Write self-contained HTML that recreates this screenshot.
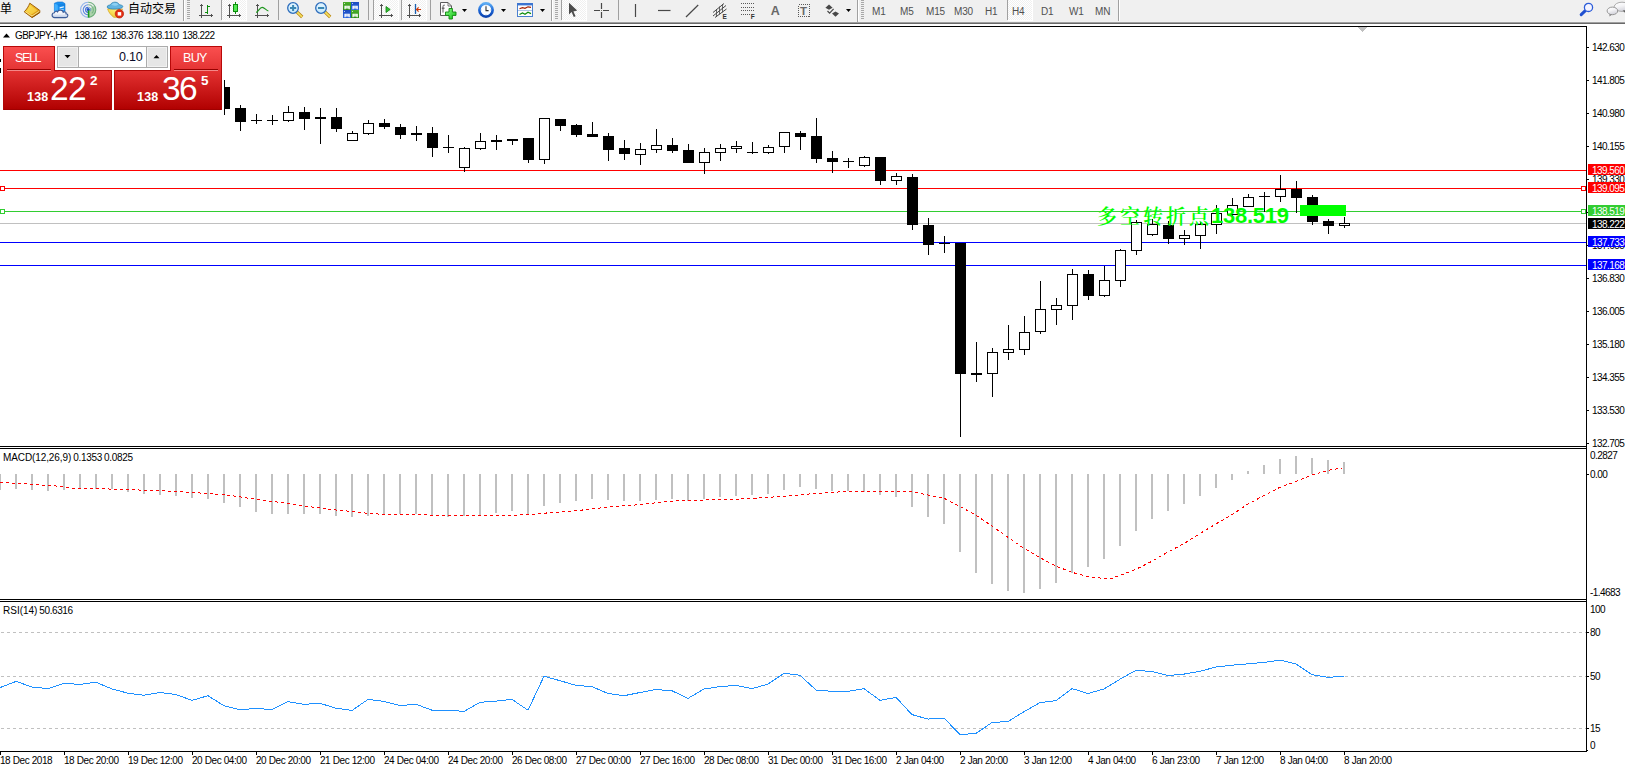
<!DOCTYPE html>
<html lang="zh"><head><meta charset="utf-8"><title>GBPJPY-,H4</title>
<style>
html,body{margin:0;padding:0;background:#fff;}
body{width:1625px;height:766px;overflow:hidden;position:relative;font-family:"Liberation Sans","Noto Sans CJK SC",sans-serif;color:#000;}
#chart{position:absolute;left:0;top:0;}
#tb{position:absolute;left:0;top:0;width:1625px;height:24px;background:#f0f0f0;overflow:hidden;}
#tb .ln1{position:absolute;left:0;top:21px;width:1625px;height:1px;background:#f2f2f2;}
#tb .ln2{position:absolute;left:0;top:22px;width:1625px;height:1px;background:#a0a0a0;}
#tb .ln3{position:absolute;left:0;top:23px;width:1625px;height:1px;background:#696969;}
#tb svg{position:absolute;left:0;top:0;}
#tb .tx{position:absolute;top:6px;font-size:10px;line-height:12px;color:#505050;letter-spacing:-0.2px;white-space:pre;}
#tb .cn{position:absolute;font-size:12px;line-height:14px;color:#000;white-space:pre;font-family:"Liberation Sans","Noto Sans CJK SC",sans-serif;}
#tb .sel{position:absolute;top:0;height:21px;background-color:#f0f0f0;background-image:linear-gradient(45deg,#fff 25%,transparent 25%,transparent 75%,#fff 75%),linear-gradient(45deg,#fff 25%,transparent 25%,transparent 75%,#fff 75%);background-size:2px 2px;background-position:0 0,1px 1px;box-shadow:inset -1px -1px 0 #fff;}
.t{position:absolute;font-size:10px;line-height:12px;letter-spacing:-0.55px;word-spacing:1.6px;white-space:pre;color:#000;}
.t.ax{width:40px;overflow:hidden;}
.t.w{color:#fff;}
.bx{position:absolute;left:1588px;width:37px;height:11px;}
#gcj{position:absolute;left:1097px;top:203px;white-space:pre;color:#0f0;line-height:28px;height:28px;font-family:"Liberation Serif","Noto Serif CJK SC",serif;font-size:20px;letter-spacing:3px;font-weight:600;}
#gnm{position:absolute;left:1211px;top:202px;white-space:pre;color:#0f0;line-height:28px;height:28px;font-family:"Liberation Sans",sans-serif;font-size:22px;font-weight:bold;letter-spacing:-0.25px;}
#oc{position:absolute;left:0;top:0;}
#oc div{position:absolute;}
#oc .sell{left:3px;top:46px;width:52px;height:24px;background:linear-gradient(#fb5050,#e43434);box-shadow:inset 1px 1px 0 #b80808,inset -1px 0 0 #b80808;}
#oc .buy{left:170px;top:46px;width:52px;height:24px;background:linear-gradient(#fb5050,#e43434);box-shadow:inset -1px 1px 0 #b80808,inset 1px 0 0 #b80808;}
#oc .pl{left:3px;top:70px;width:109px;height:40px;background:linear-gradient(#e43232,#b00000);box-shadow:inset 1px 0 0 #b00808,inset -1px 0 0 #b00808,inset 0 -1px 0 #a00000;}
#oc .pr{left:114px;top:70px;width:108px;height:40px;background:linear-gradient(#e43232,#b00000);box-shadow:inset -1px 0 0 #b00808,inset 1px 0 0 #b00808,inset 0 -1px 0 #a00000;}
#oc .hd{height:1px;background:#960000;top:69px;}
#oc .hl{height:1px;background:#f48888;top:70px;}
#oc .lb{color:#fff;font-size:12.5px;line-height:14px;letter-spacing:-1.35px;white-space:pre;}
#oc .sm{color:#fff;font-size:12.5px;line-height:14px;letter-spacing:0.2px;white-space:pre;font-weight:bold;}
#oc .big{color:#fff;font-size:33.5px;line-height:34px;letter-spacing:-1.6px;white-space:pre;}
#oc .vol{left:57px;top:46px;width:111px;height:22px;background:#fff;border:1px solid #acacac;box-sizing:border-box;}
#oc .vb{top:47px;width:20px;height:20px;background:#e6e6e6;box-shadow:inset 0 0 0 1px #f2f2f2;}
#oc .vs{top:47px;width:1px;height:20px;background:#acacac;}
#oc .vt{color:#0a0a28;font-size:12.5px;line-height:14px;white-space:pre;letter-spacing:-0.2px;}
#oc .tb{top:70px;height:1px;background:#b00808;}
</style></head>
<body>
<div id="tb">
<div class="sel" style="left:222px;width:25px"></div><div class="sel" style="left:374px;width:25px"></div><div class="sel" style="left:402px;width:25px"></div><div class="sel" style="left:562px;width:25px"></div><div class="sel" style="left:1008px;width:25px"></div>
<div class="ln1"></div><div class="ln2"></div><div class="ln3"></div>
<svg width="1625" height="24" viewBox="0 0 1625 24">
<defs>
<linearGradient id="gold" x1="0" y1="0" x2="1" y2="1"><stop offset="0" stop-color="#ffe24a"/><stop offset="0.6" stop-color="#e8a818"/><stop offset="1" stop-color="#b87408"/></linearGradient>
<linearGradient id="lens" x1="0" y1="0" x2="0" y2="1"><stop offset="0" stop-color="#e4f6ff"/><stop offset="1" stop-color="#c4e8fc"/></linearGradient>
<linearGradient id="grn" x1="0" y1="0" x2="0" y2="1"><stop offset="0" stop-color="#4cae2c"/><stop offset="1" stop-color="#2c8c18"/></linearGradient>
<linearGradient id="blu" x1="0" y1="0" x2="0" y2="1"><stop offset="0" stop-color="#1c4cc0"/><stop offset="1" stop-color="#2c68e0"/></linearGradient>
<g id="axes" fill="#505050" shape-rendering="crispEdges"><rect x="2" y="1" width="1" height="14"/><rect x="0" y="12" width="14" height="1"/><rect x="1" y="2" width="3" height="1"/><rect x="12" y="11" width="1" height="3"/></g>
<g id="grip" fill="#a8a8a8"><rect x="0" y="0" width="3" height="1"/><rect x="0" y="2" width="3" height="1"/><rect x="0" y="4" width="3" height="1"/><rect x="0" y="6" width="3" height="1"/><rect x="0" y="8" width="3" height="1"/><rect x="0" y="10" width="3" height="1"/><rect x="0" y="12" width="3" height="1"/><rect x="0" y="14" width="3" height="1"/><rect x="0" y="16" width="3" height="1"/><rect x="0" y="18" width="3" height="1"/></g>
<polygon id="dd" points="0,0 5,0 2.5,3"/>
<linearGradient id="face" x1="1" y1="0" x2="0" y2="1"><stop offset="0" stop-color="#fff8a8"/><stop offset="0.6" stop-color="#f8dc50"/><stop offset="1" stop-color="#e0a820"/></linearGradient>
<linearGradient id="cld" x1="0" y1="0" x2="0" y2="1"><stop offset="0" stop-color="#ffffff"/><stop offset="0.5" stop-color="#eef2fa"/><stop offset="1" stop-color="#b8c8e4"/></linearGradient>
<linearGradient id="bub" x1="0" y1="0" x2="0.4" y2="1"><stop offset="0" stop-color="#ffffff"/><stop offset="0.5" stop-color="#f4f4f6"/><stop offset="1" stop-color="#d4d4dc"/></linearGradient>
<linearGradient id="clk" x1="0" y1="0" x2="0" y2="1"><stop offset="0" stop-color="#5cacf4"/><stop offset="0.55" stop-color="#1c64d4"/><stop offset="1" stop-color="#0c44b0"/></linearGradient>
<linearGradient id="pls" x1="0" y1="0" x2="1" y2="1"><stop offset="0" stop-color="#8cff8c"/><stop offset="1" stop-color="#10c010"/></linearGradient>
</defs>
<!-- separators -->
<g fill="#a0a0a0"><rect x="183" y="0" width="1" height="21"/><rect x="221" y="0" width="1" height="20"/><rect x="278" y="0" width="1" height="20"/><rect x="368" y="0" width="1" height="20"/><rect x="373" y="0" width="1" height="20"/><rect x="401" y="0" width="1" height="20"/><rect x="430" y="0" width="1" height="20"/><rect x="551" y="0" width="1" height="21"/><rect x="561" y="0" width="1" height="20"/><rect x="618" y="0" width="1" height="20"/><rect x="857" y="0" width="1" height="22"/><rect x="1007" y="0" width="1" height="20"/><rect x="1118" y="0" width="1" height="21"/></g>
<g fill="#fff"><rect x="184" y="0" width="1" height="21"/><rect x="552" y="0" width="1" height="21"/><rect x="858" y="0" width="1" height="21"/><rect x="1119" y="0" width="1" height="21"/></g>
<use href="#grip" x="187" y="0"/><use href="#grip" x="555" y="0"/><use href="#grip" x="861" y="0"/>
<!-- tag icon -->
<path d="M29.8 3.2L39.8 10.4V12.6L32 17.6L24.2 11.8C26.6 9.6 28.6 6.4 29.8 3.2Z" fill="url(#gold)" stroke="#a06008" stroke-width="1"/>
<path d="M25.4 11.6L32 16L39.4 11.2" fill="none" stroke="#fff4b0" stroke-width="1" opacity="0.75"/><path d="M32.2 17.4L39.8 12.4" fill="none" stroke="#8c5404" stroke-width="0.9"/>
<path d="M29.6 5.2C28.8 7.6 27.4 9.6 26 11L31.4 14.6L37.6 10.4Z" fill="#ffe860" opacity="0.55"/>
<!-- server + cloud -->
<path d="M54.4 3.2L57.6 2H62.4L65 3.6V11.4H54.4Z" fill="#1890f0" stroke="#1070d0" stroke-width="0.6"/>
<path d="M54.6 3.4L57.8 5V11.4H54.6Z" fill="#40b0ff"/><path d="M57.8 5H65" stroke="#0c60c0" stroke-width="0.5"/>
<path d="M59.6 7.2L63.8 6.2V7.4L59.6 8.4Z" fill="#f0f8ff"/><rect x="59.6" y="9.2" width="4.2" height="1" fill="#a8d8ff"/>
<path d="M54.6 17.6C51.4 17.6 51.2 13.2 54.4 12.8C54.6 11.2 56.6 10.6 57.6 11.8C58.6 9.4 62.8 9.6 63.2 12.2C64.6 11.2 66.6 12.4 66 13.8C68.6 14 68.4 17.6 65.6 17.6Z" fill="url(#cld)" stroke="#3c5c98" stroke-width="1.15"/>
<!-- signal -->
<path d="M88.2 9.8L88.2 17.4A7.6 7.6 0 0 0 94.6 5.6Z" fill="#58b058" opacity="0.45"/>
<g fill="none" stroke-width="1.1"><path d="M88.2 2.2A7.6 7.6 0 0 0 88.2 17.4" stroke="#7ca4e8" opacity="0.8"/><path d="M88.2 4.8A5 5 0 0 0 88.2 14.8" stroke="#5c88e0"/><path d="M88.2 7.2A2.6 2.6 0 0 0 88.2 12.4" stroke="#3c6cd8"/>
<path d="M88.2 2.2A7.6 7.6 0 0 1 88.2 17.4" stroke="#5ca46c" opacity="0.85"/><path d="M88.2 4.8A5 5 0 0 1 91.8 13.4" stroke="#6cb07c" opacity="0.8"/><path d="M88.2 7.2A2.6 2.6 0 0 1 90.4 11.2" stroke="#6c9cc0" opacity="0.8"/></g>
<circle cx="88.2" cy="9.6" r="1.5" fill="#1c4cc8"/><path d="M88.6 10.4V17.4" stroke="#1c9c1c" stroke-width="1.6"/>
<!-- expert hat -->
<path d="M107.6 8.8C108.4 12 111 15.4 113.8 17.3H118L122.6 9Z" fill="url(#face)" stroke="#d4a018" stroke-width="0.7"/>
<path d="M107.2 7.2C107 4.6 110.2 5.6 110.8 4.4C111.6 1.6 118 1.4 118.8 4.2C119.6 5.4 123 4.6 122.8 6.8C122.4 9.4 108 10 107.2 7.2Z" fill="#62b4e2" stroke="#2c84b4" stroke-width="0.8"/>
<path d="M111.4 4.6C112.4 2.6 117.2 2.4 118.2 4.4C117 6 112.6 6.2 111.4 4.6Z" fill="#8cd0f4"/>
<circle cx="119.4" cy="13.8" r="4.2" fill="#e42c10" stroke="#b41c08" stroke-width="0.7"/><rect x="117.7" y="12.1" width="3.5" height="3.5" fill="#fff"/>
<!-- chart type icons -->
<use href="#axes" x="199" y="3"/><g fill="#0c8c0c" shape-rendering="crispEdges"><rect x="207" y="5" width="1" height="9"/><rect x="208" y="6" width="2" height="1"/><rect x="205" y="12" width="2" height="1"/></g>
<use href="#axes" x="227" y="3"/><g shape-rendering="crispEdges"><rect x="235" y="2" width="1" height="12" fill="#0c8c0c"/><rect x="233" y="4" width="5" height="8" fill="#0c8c0c"/><rect x="234" y="5" width="3" height="6" fill="#50e850"/></g>
<use href="#axes" x="255" y="3"/><path d="M256.2 12.6C258.5 11 260 7.4 262.2 7.4C264.5 7.4 266 10.4 268.4 11" stroke="#1c961c" stroke-width="1.2" fill="none"/>
<!-- zoom in/out -->
<g><path d="M296.6 11.6L302.2 17" stroke="#b88410" stroke-width="3.2"/><path d="M296.6 11.6L302 16.8" stroke="#f4e060" stroke-width="1.7"/><circle cx="293" cy="8" r="5.3" fill="url(#lens)" stroke="#2c6cbc" stroke-width="1.3"/><path d="M290 8H296.2M293.1 4.9V11.1" stroke="#3c88b4" stroke-width="2"/></g>
<g><path d="M324.6 11.6L330.2 17" stroke="#b88410" stroke-width="3.2"/><path d="M324.6 11.6L330 16.8" stroke="#f4e060" stroke-width="1.7"/><circle cx="321" cy="8" r="5.3" fill="url(#lens)" stroke="#2c6cbc" stroke-width="1.3"/><path d="M318 8H324.2" stroke="#3c88b4" stroke-width="2"/></g>
<!-- tile windows -->
<rect x="343" y="2" width="8" height="8" fill="url(#grn)"/><rect x="351" y="2" width="8" height="8" fill="url(#blu)"/><rect x="343" y="10" width="8" height="8" fill="url(#blu)"/><rect x="351" y="10" width="8" height="8" fill="url(#grn)"/>
<g fill="#fff"><path d="M344.4 9.2V5.8H349.8V9.2H348.6V8.4H345.6V9.2Z"/><path d="M352.4 9.2V5.8H357.8V9.2H356.6V8.4H353.6V9.2Z"/><path d="M344.4 17.2V13.8H349.8V17.2H348.6V16.4H345.6V17.2Z"/><path d="M352.4 17.2V13.8H357.8V17.2H356.6V16.4H353.6V17.2Z"/><rect x="344" y="3" width="1" height="1" opacity="0.7"/><rect x="352" y="3" width="1" height="1" opacity="0.7"/><rect x="344" y="11" width="1" height="1" opacity="0.7"/><rect x="352" y="11" width="1" height="1" opacity="0.7"/></g>
<g opacity="0.6"><rect x="345.6" y="6.6" width="3" height="0.8" fill="#58b838"/><rect x="353.6" y="6.6" width="3" height="0.8" fill="#4878e0"/><rect x="345.6" y="14.6" width="3" height="0.8" fill="#4878e0"/><rect x="353.6" y="14.6" width="3" height="0.8" fill="#58b838"/></g>
<!-- autoscroll / shift -->
<use href="#axes" x="379" y="3"/><polygon points="386,6.5 386,12.5 390.2,9.5" fill="#30c030" stroke="#108010" stroke-width="0.8"/>
<use href="#axes" x="407" y="3"/><path d="M415.5 4V14" stroke="#1860b0" stroke-width="1.3"/><path d="M421 9.5H416.5M418.6 7.3L416.5 9.5L418.6 11.7" stroke="#d03808" stroke-width="1.1" fill="none"/>
<!-- indicators -->
<path d="M440.5 2.5H448L451.5 6V15.5H440.5Z" fill="#fcfcfc" stroke="#5c5c5c" stroke-width="1"/><path d="M448 2.5V6H451.5" fill="none" stroke="#5c5c5c" stroke-width="0.8"/><path d="M444.8 5.2C443.4 4.8 443 5.6 443 6.6V12.6M441.8 8.2H444.6" stroke="#484848" stroke-width="0.9" fill="none"/>
<path d="M449 8.5H452.4V12H456V15.4H452.4V19H449V15.4H445.5V12H449Z" fill="url(#pls)" stroke="#0c840c" stroke-width="0.9"/>
<use href="#dd" x="462" y="9"/>
<!-- clock -->
<circle cx="486" cy="10" r="6.6" fill="#fbfdff" stroke="url(#clk)" stroke-width="2.7"/><path d="M486 6.2V10.6H488.6" stroke="#303030" stroke-width="1.1" fill="none"/><g fill="#9cb0c8"><rect x="485.6" y="4.6" width="0.8" height="1"/><rect x="485.6" y="14.4" width="0.8" height="1"/><rect x="480.6" y="9.6" width="1" height="0.8"/><rect x="490.4" y="9.6" width="1" height="0.8"/></g>
<use href="#dd" x="501" y="9"/>
<!-- templates -->
<rect x="517.5" y="3.5" width="15" height="13" fill="#fdfdfd" stroke="#4a80d0" stroke-width="1"/><rect x="517" y="3" width="16" height="2.4" fill="#3c74d0"/><path d="M518 10.5H532" stroke="#9cb8e0" stroke-width="0.8"/>
<path d="M519.5 8.8L522.5 7.6L525 8.4L528 6.8L531 7.4" stroke="#a82000" stroke-width="1.2" fill="none"/><path d="M519.5 14.5L522.5 13L525 14.2L528 12.2L531 13.6" stroke="#0c8c0c" stroke-width="1.2" fill="none"/>
<use href="#dd" x="540" y="9"/>
<!-- cursor / crosshair -->
<path d="M569 2.8V14.4L571.6 12L573.8 17L575.6 16.2L573.4 11.4L577.2 10.6Z" fill="#4c4c4c"/>
<path d="M594 10.5H600M603 10.5H609M601.5 3V9M601.5 12V18" stroke="#484848" stroke-width="1.2"/><rect x="601" y="10" width="1" height="1" fill="#787868"/>
<!-- line tools -->
<path d="M635.5 4V17" stroke="#484848" stroke-width="1.2"/><path d="M658 10.5H670.5" stroke="#484848" stroke-width="1.2"/><path d="M686 17L698.2 5" stroke="#484848" stroke-width="1.2"/>
<g stroke="#484848" stroke-width="1" fill="none"><path d="M713 12.5L724 3.5M713 16L726 5.5M715 17.5L726.5 9"/><path d="M716.5 9V17M719.5 6.5V14.5M722.5 4V12.5" stroke-width="0.8"/></g>
<text x="722.6" y="18.8" font-family="Liberation Sans, sans-serif" font-size="6.5" font-weight="bold" fill="#303030">E</text>
<g stroke="#585858" stroke-width="1" stroke-dasharray="1,1" fill="none" shape-rendering="crispEdges"><path d="M741 3.5H755M741 7.5H755M741 10.5H755M741 14.5H750"/></g>
<text x="750.8" y="18.8" font-family="Liberation Sans, sans-serif" font-size="6.5" font-weight="bold" fill="#303030">F</text>
<text x="770.8" y="14.9" font-family="Liberation Sans, sans-serif" font-size="12.5" font-weight="bold" fill="#686868">A</text>
<rect x="798.5" y="4.5" width="11" height="12" fill="none" stroke="#585858" stroke-width="1" stroke-dasharray="1,1" shape-rendering="crispEdges"/>
<text x="800" y="14.8" font-family="Liberation Sans, sans-serif" font-size="11.5" font-weight="bold" fill="#686868">T</text>
<polygon points="829,4.5 832.6,7.8 829,9.8 825.4,7.8" fill="#484848"/><polygon points="835.5,11.5 839,13.5 835.5,16.8 832,13.5" fill="#484848"/><path d="M827.5 11L829.6 13.2L833.6 8.8" stroke="#484848" stroke-width="1.2" fill="none"/>
<use href="#dd" x="846" y="9"/>
<!-- search + chat -->
<path d="M1585.6 10.4L1581.2 14.6" stroke="#2050d0" stroke-width="3" stroke-linecap="round"/><circle cx="1588.5" cy="7.4" r="4.1" fill="#f4f4ff" stroke="#2c5cd8" stroke-width="1.3"/>
<ellipse cx="1622" cy="6.8" rx="7.8" ry="4.6" fill="url(#bub)" stroke="#a4a4a4" stroke-width="0.9"/><path d="M1622.6 10.6L1626 13.6V10Z" fill="#606060"/>
<path d="M1609.8 13.4L1609.4 16.6L1612.4 14.2Z" fill="#787878"/><ellipse cx="1612.4" cy="10.9" rx="5.3" ry="3.8" fill="url(#bub)" stroke="#8c8c8c" stroke-width="0.9"/>
</svg>
<div class="cn" style="left:0;top:2px">单</div>
<div class="cn" style="left:128px;top:2px">自动交易</div>
<div class="tx" style="left:872px">M1</div>
<div class="tx" style="left:900px">M5</div>
<div class="tx" style="left:926px">M15</div>
<div class="tx" style="left:954px">M30</div>
<div class="tx" style="left:985px">H1</div>
<div class="tx" style="left:1012px">H4</div>
<div class="tx" style="left:1041px">D1</div>
<div class="tx" style="left:1069px">W1</div>
<div class="tx" style="left:1095px">MN</div>
</div>
<svg id="chart" width="1625" height="766" viewBox="0 0 1625 766" shape-rendering="crispEdges">
<rect x="0" y="26" width="1587" height="1" fill="#000"/><rect x="1586" y="26" width="1" height="726" fill="#000"/><rect x="0" y="446" width="1587" height="1" fill="#000"/><rect x="0" y="448" width="1587" height="1" fill="#000"/><rect x="0" y="599" width="1587" height="1" fill="#000"/><rect x="0" y="601" width="1587" height="1" fill="#000"/><rect x="0" y="751" width="1587" height="1" fill="#000"/>
<rect x="1358" y="27" width="9" height="1" fill="#c0c0c0"/><rect x="1359" y="28" width="7" height="1" fill="#c0c0c0"/><rect x="1360" y="29" width="5" height="1" fill="#c0c0c0"/><rect x="1361" y="30" width="3" height="1" fill="#c0c0c0"/><rect x="1362" y="31" width="1" height="1" fill="#c0c0c0"/>
<rect x="0" y="170" width="1586" height="1" fill="#f00"/><rect x="0" y="188" width="1586" height="1" fill="#f00"/><rect x="0" y="211" width="1586" height="1" fill="#32cd32"/><rect x="0" y="223" width="1586" height="1" fill="#c0c0c0"/><rect x="0" y="242" width="1586" height="1" fill="#00f"/><rect x="0" y="265" width="1586" height="1" fill="#00f"/>
<rect x="0.5" y="186.5" width="4" height="4" fill="#fff" stroke="#f00" stroke-width="1"/><rect x="1581.5" y="186.5" width="4" height="4" fill="#fff" stroke="#f00" stroke-width="1"/><rect x="0.5" y="209.5" width="4" height="4" fill="#fff" stroke="#32cd32" stroke-width="1"/><rect x="1581.5" y="209.5" width="4" height="4" fill="#fff" stroke="#32cd32" stroke-width="1"/>
<rect x="0" y="59" width="1" height="3" fill="#000"/><rect x="0" y="68" width="1" height="5" fill="#000"/><g id="candles">
<rect x="224" y="80" width="1" height="35" fill="#000"/><rect x="224" y="87" width="6" height="22" fill="#000"/>
<rect x="240" y="105" width="1" height="26" fill="#000"/><rect x="235" y="108" width="11" height="14" fill="#000"/>
<rect x="256" y="114" width="1" height="10" fill="#000"/><rect x="251" y="120" width="11" height="1" fill="#000"/>
<rect x="272" y="115" width="1" height="10" fill="#000"/><rect x="267" y="120" width="11" height="1" fill="#000"/>
<rect x="288" y="106" width="1" height="16" fill="#000"/><rect x="283" y="112" width="11" height="9" fill="#000"/><rect x="284" y="113" width="9" height="7" fill="#fff"/>
<rect x="304" y="107" width="1" height="23" fill="#000"/><rect x="299" y="112" width="11" height="7" fill="#000"/>
<rect x="320" y="108" width="1" height="36" fill="#000"/><rect x="315" y="117" width="11" height="2" fill="#000"/>
<rect x="336" y="108" width="1" height="24" fill="#000"/><rect x="331" y="117" width="11" height="12" fill="#000"/>
<rect x="352" y="131" width="1" height="10" fill="#000"/><rect x="347" y="133" width="11" height="8" fill="#000"/><rect x="348" y="134" width="9" height="6" fill="#fff"/>
<rect x="368" y="120" width="1" height="15" fill="#000"/><rect x="363" y="123" width="11" height="11" fill="#000"/><rect x="364" y="124" width="9" height="9" fill="#fff"/>
<rect x="384" y="119" width="1" height="10" fill="#000"/><rect x="379" y="123" width="11" height="4" fill="#000"/>
<rect x="400" y="124" width="1" height="15" fill="#000"/><rect x="395" y="127" width="11" height="8" fill="#000"/>
<rect x="416" y="126" width="1" height="15" fill="#000"/><rect x="411" y="133" width="11" height="2" fill="#000"/>
<rect x="432" y="127" width="1" height="30" fill="#000"/><rect x="427" y="133" width="11" height="15" fill="#000"/>
<rect x="448" y="135" width="1" height="18" fill="#000"/><rect x="443" y="147" width="11" height="1" fill="#000"/>
<rect x="464" y="147" width="1" height="25" fill="#000"/><rect x="459" y="148" width="11" height="20" fill="#000"/><rect x="460" y="149" width="9" height="18" fill="#fff"/>
<rect x="480" y="133" width="1" height="17" fill="#000"/><rect x="475" y="141" width="11" height="8" fill="#000"/><rect x="476" y="142" width="9" height="6" fill="#fff"/>
<rect x="496" y="135" width="1" height="15" fill="#000"/><rect x="491" y="140" width="11" height="2" fill="#000"/>
<rect x="512" y="139" width="1" height="6" fill="#000"/><rect x="507" y="139" width="11" height="2" fill="#000"/>
<rect x="528" y="138" width="1" height="25" fill="#000"/><rect x="523" y="138" width="11" height="22" fill="#000"/>
<rect x="544" y="118" width="1" height="46" fill="#000"/><rect x="539" y="118" width="11" height="42" fill="#000"/><rect x="540" y="119" width="9" height="40" fill="#fff"/>
<rect x="560" y="119" width="1" height="12" fill="#000"/><rect x="555" y="119" width="11" height="7" fill="#000"/>
<rect x="576" y="124" width="1" height="13" fill="#000"/><rect x="571" y="125" width="11" height="10" fill="#000"/>
<rect x="592" y="122" width="1" height="15" fill="#000"/><rect x="587" y="134" width="11" height="3" fill="#000"/>
<rect x="608" y="133" width="1" height="28" fill="#000"/><rect x="603" y="136" width="11" height="14" fill="#000"/>
<rect x="624" y="140" width="1" height="20" fill="#000"/><rect x="619" y="148" width="11" height="6" fill="#000"/>
<rect x="640" y="143" width="1" height="22" fill="#000"/><rect x="635" y="149" width="11" height="6" fill="#000"/><rect x="636" y="150" width="9" height="4" fill="#fff"/>
<rect x="656" y="129" width="1" height="24" fill="#000"/><rect x="651" y="145" width="11" height="5" fill="#000"/><rect x="652" y="146" width="9" height="3" fill="#fff"/>
<rect x="672" y="138" width="1" height="15" fill="#000"/><rect x="667" y="145" width="11" height="6" fill="#000"/>
<rect x="688" y="144" width="1" height="19" fill="#000"/><rect x="683" y="150" width="11" height="13" fill="#000"/>
<rect x="704" y="148" width="1" height="26" fill="#000"/><rect x="699" y="152" width="11" height="11" fill="#000"/><rect x="700" y="153" width="9" height="9" fill="#fff"/>
<rect x="720" y="144" width="1" height="17" fill="#000"/><rect x="715" y="148" width="11" height="5" fill="#000"/><rect x="716" y="149" width="9" height="3" fill="#fff"/>
<rect x="736" y="141" width="1" height="12" fill="#000"/><rect x="731" y="146" width="11" height="3" fill="#000"/><rect x="732" y="147" width="9" height="1" fill="#fff"/>
<rect x="752" y="142" width="1" height="12" fill="#000"/><rect x="747" y="152" width="11" height="1" fill="#000"/>
<rect x="768" y="145" width="1" height="9" fill="#000"/><rect x="763" y="147" width="11" height="6" fill="#000"/><rect x="764" y="148" width="9" height="4" fill="#fff"/>
<rect x="784" y="132" width="1" height="21" fill="#000"/><rect x="779" y="132" width="11" height="15" fill="#000"/><rect x="780" y="133" width="9" height="13" fill="#fff"/>
<rect x="800" y="131" width="1" height="19" fill="#000"/><rect x="795" y="133" width="11" height="4" fill="#000"/>
<rect x="816" y="118" width="1" height="45" fill="#000"/><rect x="811" y="136" width="11" height="23" fill="#000"/>
<rect x="832" y="151" width="1" height="22" fill="#000"/><rect x="827" y="158" width="11" height="4" fill="#000"/>
<rect x="848" y="158" width="1" height="10" fill="#000"/><rect x="843" y="161" width="11" height="1" fill="#000"/>
<rect x="864" y="156" width="1" height="11" fill="#000"/><rect x="859" y="157" width="11" height="9" fill="#000"/><rect x="860" y="158" width="9" height="7" fill="#fff"/>
<rect x="880" y="157" width="1" height="28" fill="#000"/><rect x="875" y="157" width="11" height="24" fill="#000"/>
<rect x="896" y="173" width="1" height="12" fill="#000"/><rect x="891" y="176" width="11" height="5" fill="#000"/><rect x="892" y="177" width="9" height="3" fill="#fff"/>
<rect x="912" y="174" width="1" height="56" fill="#000"/><rect x="907" y="177" width="11" height="48" fill="#000"/>
<rect x="928" y="218" width="1" height="37" fill="#000"/><rect x="923" y="225" width="11" height="20" fill="#000"/>
<rect x="944" y="236" width="1" height="17" fill="#000"/><rect x="939" y="243" width="11" height="1" fill="#000"/>
<rect x="960" y="243" width="1" height="194" fill="#000"/><rect x="955" y="243" width="11" height="131" fill="#000"/>
<rect x="976" y="342" width="1" height="40" fill="#000"/><rect x="971" y="373" width="11" height="2" fill="#000"/>
<rect x="992" y="348" width="1" height="49" fill="#000"/><rect x="987" y="352" width="11" height="22" fill="#000"/><rect x="988" y="353" width="9" height="20" fill="#fff"/>
<rect x="1008" y="325" width="1" height="35" fill="#000"/><rect x="1003" y="349" width="11" height="4" fill="#000"/><rect x="1004" y="350" width="9" height="2" fill="#fff"/>
<rect x="1024" y="316" width="1" height="39" fill="#000"/><rect x="1019" y="332" width="11" height="18" fill="#000"/><rect x="1020" y="333" width="9" height="16" fill="#fff"/>
<rect x="1040" y="281" width="1" height="53" fill="#000"/><rect x="1035" y="309" width="11" height="23" fill="#000"/><rect x="1036" y="310" width="9" height="21" fill="#fff"/>
<rect x="1056" y="298" width="1" height="27" fill="#000"/><rect x="1051" y="305" width="11" height="5" fill="#000"/><rect x="1052" y="306" width="9" height="3" fill="#fff"/>
<rect x="1072" y="269" width="1" height="51" fill="#000"/><rect x="1067" y="274" width="11" height="32" fill="#000"/><rect x="1068" y="275" width="9" height="30" fill="#fff"/>
<rect x="1088" y="270" width="1" height="30" fill="#000"/><rect x="1083" y="274" width="11" height="22" fill="#000"/>
<rect x="1104" y="266" width="1" height="31" fill="#000"/><rect x="1099" y="280" width="11" height="16" fill="#000"/><rect x="1100" y="281" width="9" height="14" fill="#fff"/>
<rect x="1120" y="249" width="1" height="38" fill="#000"/><rect x="1115" y="250" width="11" height="31" fill="#000"/><rect x="1116" y="251" width="9" height="29" fill="#fff"/>
<rect x="1136" y="220" width="1" height="35" fill="#000"/><rect x="1131" y="222" width="11" height="29" fill="#000"/><rect x="1132" y="223" width="9" height="27" fill="#fff"/>
<rect x="1152" y="219" width="1" height="17" fill="#000"/><rect x="1147" y="224" width="11" height="11" fill="#000"/><rect x="1148" y="225" width="9" height="9" fill="#fff"/>
<rect x="1168" y="221" width="1" height="23" fill="#000"/><rect x="1163" y="225" width="11" height="14" fill="#000"/>
<rect x="1184" y="230" width="1" height="15" fill="#000"/><rect x="1179" y="235" width="11" height="4" fill="#000"/><rect x="1180" y="236" width="9" height="2" fill="#fff"/>
<rect x="1200" y="222" width="1" height="27" fill="#000"/><rect x="1195" y="224" width="11" height="12" fill="#000"/><rect x="1196" y="225" width="9" height="10" fill="#fff"/>
<rect x="1216" y="205" width="1" height="29" fill="#000"/><rect x="1211" y="213" width="11" height="12" fill="#000"/><rect x="1212" y="214" width="9" height="10" fill="#fff"/>
<rect x="1232" y="198" width="1" height="18" fill="#000"/><rect x="1227" y="205" width="11" height="10" fill="#000"/><rect x="1228" y="206" width="9" height="8" fill="#fff"/>
<rect x="1248" y="194" width="1" height="13" fill="#000"/><rect x="1243" y="197" width="11" height="10" fill="#000"/><rect x="1244" y="198" width="9" height="8" fill="#fff"/>
<rect x="1264" y="192" width="1" height="20" fill="#000"/><rect x="1259" y="196" width="11" height="1" fill="#000"/>
<rect x="1280" y="175" width="1" height="27" fill="#000"/><rect x="1275" y="189" width="11" height="8" fill="#000"/><rect x="1276" y="190" width="9" height="6" fill="#fff"/>
<rect x="1296" y="181" width="1" height="32" fill="#000"/><rect x="1291" y="189" width="11" height="9" fill="#000"/>
<rect x="1312" y="195" width="1" height="30" fill="#000"/><rect x="1307" y="197" width="11" height="25" fill="#000"/>
<rect x="1328" y="219" width="1" height="15" fill="#000"/><rect x="1323" y="221" width="11" height="5" fill="#000"/>
<rect x="1344" y="217" width="1" height="11" fill="#000"/><rect x="1339" y="223" width="11" height="3" fill="#000"/><rect x="1340" y="224" width="9" height="1" fill="#fff"/>
</g>
<g id="macd">
<rect x="-1" y="474" width="2" height="16" fill="#c0c0c0"/><rect x="15" y="474" width="2" height="15" fill="#c0c0c0"/><rect x="31" y="474" width="2" height="16" fill="#c0c0c0"/><rect x="47" y="474" width="2" height="17" fill="#c0c0c0"/><rect x="63" y="474" width="2" height="16" fill="#c0c0c0"/><rect x="79" y="474" width="2" height="15" fill="#c0c0c0"/><rect x="95" y="474" width="2" height="15" fill="#c0c0c0"/><rect x="111" y="474" width="2" height="15" fill="#c0c0c0"/><rect x="127" y="474" width="2" height="18" fill="#c0c0c0"/><rect x="143" y="474" width="2" height="20" fill="#c0c0c0"/><rect x="159" y="474" width="2" height="21" fill="#c0c0c0"/><rect x="175" y="474" width="2" height="22" fill="#c0c0c0"/><rect x="191" y="474" width="2" height="24" fill="#c0c0c0"/><rect x="207" y="474" width="2" height="25" fill="#c0c0c0"/><rect x="223" y="474" width="2" height="29" fill="#c0c0c0"/><rect x="239" y="474" width="2" height="33" fill="#c0c0c0"/><rect x="255" y="474" width="2" height="38" fill="#c0c0c0"/><rect x="271" y="474" width="2" height="40" fill="#c0c0c0"/><rect x="287" y="474" width="2" height="40" fill="#c0c0c0"/><rect x="303" y="474" width="2" height="40" fill="#c0c0c0"/><rect x="319" y="474" width="2" height="40" fill="#c0c0c0"/><rect x="335" y="474" width="2" height="42" fill="#c0c0c0"/><rect x="351" y="474" width="2" height="43" fill="#c0c0c0"/><rect x="367" y="474" width="2" height="42" fill="#c0c0c0"/><rect x="383" y="474" width="2" height="40" fill="#c0c0c0"/><rect x="399" y="474" width="2" height="40" fill="#c0c0c0"/><rect x="415" y="474" width="2" height="40" fill="#c0c0c0"/><rect x="431" y="474" width="2" height="42" fill="#c0c0c0"/><rect x="447" y="474" width="2" height="43" fill="#c0c0c0"/><rect x="463" y="474" width="2" height="42" fill="#c0c0c0"/><rect x="479" y="474" width="2" height="41" fill="#c0c0c0"/><rect x="495" y="474" width="2" height="39" fill="#c0c0c0"/><rect x="511" y="474" width="2" height="37" fill="#c0c0c0"/><rect x="527" y="474" width="2" height="40" fill="#c0c0c0"/><rect x="543" y="474" width="2" height="32" fill="#c0c0c0"/><rect x="559" y="474" width="2" height="29" fill="#c0c0c0"/><rect x="575" y="474" width="2" height="27" fill="#c0c0c0"/><rect x="591" y="474" width="2" height="25" fill="#c0c0c0"/><rect x="607" y="474" width="2" height="26" fill="#c0c0c0"/><rect x="623" y="474" width="2" height="27" fill="#c0c0c0"/><rect x="639" y="474" width="2" height="27" fill="#c0c0c0"/><rect x="655" y="474" width="2" height="26" fill="#c0c0c0"/><rect x="671" y="474" width="2" height="25" fill="#c0c0c0"/><rect x="687" y="474" width="2" height="27" fill="#c0c0c0"/><rect x="703" y="474" width="2" height="25" fill="#c0c0c0"/><rect x="719" y="474" width="2" height="23" fill="#c0c0c0"/><rect x="735" y="474" width="2" height="22" fill="#c0c0c0"/><rect x="751" y="474" width="2" height="21" fill="#c0c0c0"/><rect x="767" y="474" width="2" height="20" fill="#c0c0c0"/><rect x="783" y="474" width="2" height="16" fill="#c0c0c0"/><rect x="799" y="474" width="2" height="13" fill="#c0c0c0"/><rect x="815" y="474" width="2" height="15" fill="#c0c0c0"/><rect x="831" y="474" width="2" height="17" fill="#c0c0c0"/><rect x="847" y="474" width="2" height="17" fill="#c0c0c0"/><rect x="863" y="474" width="2" height="18" fill="#c0c0c0"/><rect x="879" y="474" width="2" height="21" fill="#c0c0c0"/><rect x="895" y="474" width="2" height="23" fill="#c0c0c0"/><rect x="911" y="474" width="2" height="33" fill="#c0c0c0"/><rect x="927" y="474" width="2" height="43" fill="#c0c0c0"/><rect x="943" y="474" width="2" height="50" fill="#c0c0c0"/><rect x="959" y="474" width="2" height="78" fill="#c0c0c0"/><rect x="975" y="474" width="2" height="99" fill="#c0c0c0"/><rect x="991" y="474" width="2" height="110" fill="#c0c0c0"/><rect x="1007" y="474" width="2" height="117" fill="#c0c0c0"/><rect x="1023" y="474" width="2" height="119" fill="#c0c0c0"/><rect x="1039" y="474" width="2" height="115" fill="#c0c0c0"/><rect x="1055" y="474" width="2" height="109" fill="#c0c0c0"/><rect x="1071" y="474" width="2" height="99" fill="#c0c0c0"/><rect x="1087" y="474" width="2" height="93" fill="#c0c0c0"/><rect x="1103" y="474" width="2" height="85" fill="#c0c0c0"/><rect x="1119" y="474" width="2" height="72" fill="#c0c0c0"/><rect x="1135" y="474" width="2" height="57" fill="#c0c0c0"/><rect x="1151" y="474" width="2" height="45" fill="#c0c0c0"/><rect x="1167" y="474" width="2" height="37" fill="#c0c0c0"/><rect x="1183" y="474" width="2" height="30" fill="#c0c0c0"/><rect x="1199" y="474" width="2" height="22" fill="#c0c0c0"/><rect x="1215" y="474" width="2" height="14" fill="#c0c0c0"/><rect x="1231" y="474" width="2" height="6" fill="#c0c0c0"/><rect x="1247" y="471" width="2" height="3" fill="#c0c0c0"/><rect x="1263" y="465" width="2" height="9" fill="#c0c0c0"/><rect x="1279" y="459" width="2" height="15" fill="#c0c0c0"/><rect x="1295" y="456" width="2" height="18" fill="#c0c0c0"/><rect x="1311" y="458" width="2" height="16" fill="#c0c0c0"/><rect x="1327" y="460" width="2" height="14" fill="#c0c0c0"/><rect x="1343" y="462" width="2" height="12" fill="#c0c0c0"/>
<polyline points="0,482.6 24,483.5 30,484.5 61,486.3 74,488.5 103,488.8 120,489.4 155,490.5 185,492 218,494.2 231,495.5 255,499.2 277,502 295,504.4 304,506 320,508 336,510 352,511.5 368,513.4 384,514.4 416,514.8 450,515.4 500,515.5 528,514.8 544,513.2 560,512 576,510.7 592,509 608,507 624,505.8 640,504.6 656,502.8 672,501.1 688,500.4 704,500 736,499.2 752,498.4 768,497.4 784,496.2 800,494.8 816,493.4 832,492.3 848,491.5 864,491 880,491 896,491.2 912,491.8 928,495 944,498.2 960,506.5 976,515.2 992,526.2 1008,537.3 1024,548.4 1040,557.7 1056,566.1 1072,572.3 1088,576.7 1104,578.4 1112,578.2 1120,575.5 1136,569.3 1152,561.2 1168,552 1184,543.5 1200,533.6 1216,523.8 1232,514.7 1248,504 1264,495.5 1280,487.3 1296,481.4 1312,475 1328,470.4 1342,468" fill="none" stroke="#f00" stroke-width="1" stroke-dasharray="3,3" shape-rendering="crispEdges"/>
</g>
<g id="rsi">
<line x1="0" y1="632.5" x2="1586" y2="632.5" stroke="#c0c0c0" stroke-width="1" stroke-dasharray="3,3" stroke-dashoffset="5"/><line x1="0" y1="676.5" x2="1586" y2="676.5" stroke="#c0c0c0" stroke-width="1" stroke-dasharray="3,3" stroke-dashoffset="5"/><line x1="0" y1="728.5" x2="1586" y2="728.5" stroke="#c0c0c0" stroke-width="1" stroke-dasharray="3,3" stroke-dashoffset="5"/>
<polyline points="0,687.6 16,681.4 32,687 48,688.6 64,683.4 80,684.4 96,682.2 112,689 128,693.2 144,695.2 160,692.5 176,694.5 192,700.4 208,695.7 224,705.8 240,709.7 256,708.5 272,709.5 288,701.6 304,704.3 320,703.3 336,708.2 352,710.5 368,699.4 384,701.4 400,705.5 416,704.3 432,710.2 448,710.2 464,711.4 480,702.3 496,701.1 512,699.4 528,710.2 544,676.2 560,680.7 576,685.4 592,686.6 608,693.5 624,695.7 640,692.5 656,689.5 672,690.8 688,698.4 704,689 720,686.6 736,685.4 752,688.6 768,684.1 784,673.3 800,675.3 816,690 832,691.3 848,691.3 864,688.6 880,700.4 896,697.4 912,714.6 928,719.1 944,718.1 960,734.6 976,733.4 992,722.5 1008,721.5 1024,711.7 1040,702.6 1056,700.6 1072,688.6 1088,693.5 1104,689 1120,679.2 1136,670.3 1152,671.6 1168,675.5 1184,674.1 1200,671.3 1216,667 1232,665.2 1248,663.8 1264,662.4 1280,660.1 1296,664.1 1312,674.7 1328,677.3 1344,676.4" fill="none" stroke="#1e90ff" stroke-width="1" shape-rendering="crispEdges"/>
</g>
<g id="ticks">
<rect x="1587" y="47" width="2" height="1" fill="#000"/><rect x="1587" y="80" width="2" height="1" fill="#000"/><rect x="1587" y="113" width="2" height="1" fill="#000"/><rect x="1587" y="146" width="2" height="1" fill="#000"/><rect x="1587" y="179" width="2" height="1" fill="#000"/><rect x="1587" y="212" width="2" height="1" fill="#000"/><rect x="1587" y="245" width="2" height="1" fill="#000"/><rect x="1587" y="278" width="2" height="1" fill="#000"/><rect x="1587" y="311" width="2" height="1" fill="#000"/><rect x="1587" y="344" width="2" height="1" fill="#000"/><rect x="1587" y="377" width="2" height="1" fill="#000"/><rect x="1587" y="410" width="2" height="1" fill="#000"/><rect x="1587" y="443" width="2" height="1" fill="#000"/><rect x="1587" y="474" width="2" height="1" fill="#000"/><rect x="1587" y="632" width="2" height="1" fill="#000"/><rect x="1587" y="676" width="2" height="1" fill="#000"/><rect x="1587" y="728" width="2" height="1" fill="#000"/><rect x="1587" y="750" width="1" height="1" fill="#000"/><rect x="0" y="752" width="1" height="3" fill="#000"/><rect x="64" y="752" width="1" height="3" fill="#000"/><rect x="128" y="752" width="1" height="3" fill="#000"/><rect x="192" y="752" width="1" height="3" fill="#000"/><rect x="256" y="752" width="1" height="3" fill="#000"/><rect x="320" y="752" width="1" height="3" fill="#000"/><rect x="384" y="752" width="1" height="3" fill="#000"/><rect x="448" y="752" width="1" height="3" fill="#000"/><rect x="512" y="752" width="1" height="3" fill="#000"/><rect x="576" y="752" width="1" height="3" fill="#000"/><rect x="640" y="752" width="1" height="3" fill="#000"/><rect x="704" y="752" width="1" height="3" fill="#000"/><rect x="768" y="752" width="1" height="3" fill="#000"/><rect x="832" y="752" width="1" height="3" fill="#000"/><rect x="896" y="752" width="1" height="3" fill="#000"/><rect x="960" y="752" width="1" height="3" fill="#000"/><rect x="1024" y="752" width="1" height="3" fill="#000"/><rect x="1088" y="752" width="1" height="3" fill="#000"/><rect x="1152" y="752" width="1" height="3" fill="#000"/><rect x="1216" y="752" width="1" height="3" fill="#000"/><rect x="1280" y="752" width="1" height="3" fill="#000"/><rect x="1344" y="752" width="1" height="3" fill="#000"/>
</g>
<rect x="1300" y="205" width="46" height="11" fill="#0f0"/>
</svg>
<div id="labels">
<div class="t ax" style="left:1592px;top:42px;">142.630</div>
<div class="t ax" style="left:1592px;top:75px;">141.805</div>
<div class="t ax" style="left:1592px;top:108px;">140.980</div>
<div class="t ax" style="left:1592px;top:141px;">140.155</div>
<div class="t ax" style="left:1592px;top:174px;">139.330</div>
<div class="t ax" style="left:1592px;top:207px;">138.505</div>
<div class="t ax" style="left:1592px;top:240px;">137.655</div>
<div class="t ax" style="left:1592px;top:273px;">136.830</div>
<div class="t ax" style="left:1592px;top:306px;">136.005</div>
<div class="t ax" style="left:1592px;top:339px;">135.180</div>
<div class="t ax" style="left:1592px;top:372px;">134.355</div>
<div class="t ax" style="left:1592px;top:405px;">133.530</div>
<div class="t ax" style="left:1592px;top:438px;">132.705</div>
<div class="bx" style="top:164px;background:#f00"><div class="t w" style="left:4px;top:1px">139.560</div></div>
<div class="bx" style="top:182px;background:#f00"><div class="t w" style="left:4px;top:1px">139.095</div></div>
<div class="bx" style="top:205px;background:#32cd32"><div class="t w" style="left:4px;top:1px">138.519</div></div>
<div class="bx" style="top:218px;background:#000"><div class="t w" style="left:4px;top:1px">138.222</div></div>
<div class="bx" style="top:236px;background:#00f"><div class="t w" style="left:4px;top:1px">137.733</div></div>
<div class="bx" style="top:259px;background:#00f"><div class="t w" style="left:4px;top:1px">137.168</div></div>
<div class="t ax" style="left:1590px;top:450px;">0.2827</div>
<div class="t ax" style="left:1590px;top:469px;">0.00</div>
<div class="t ax" style="left:1590px;top:587px;">-1.4683</div>
<div class="t ax" style="left:1590px;top:604px;">100</div>
<div class="t ax" style="left:1590px;top:627px;">80</div>
<div class="t ax" style="left:1590px;top:671px;">50</div>
<div class="t ax" style="left:1590px;top:723px;">15</div>
<div class="t ax" style="left:1590px;top:740px;">0</div>
<div class="t" style="left:0px;top:755px;letter-spacing:-0.45px;word-spacing:0.2px;">18 Dec 2018</div>
<div class="t" style="left:64px;top:755px;letter-spacing:-0.45px;word-spacing:0.2px;">18 Dec 20:00</div>
<div class="t" style="left:128px;top:755px;letter-spacing:-0.45px;word-spacing:0.2px;">19 Dec 12:00</div>
<div class="t" style="left:192px;top:755px;letter-spacing:-0.45px;word-spacing:0.2px;">20 Dec 04:00</div>
<div class="t" style="left:256px;top:755px;letter-spacing:-0.45px;word-spacing:0.2px;">20 Dec 20:00</div>
<div class="t" style="left:320px;top:755px;letter-spacing:-0.45px;word-spacing:0.2px;">21 Dec 12:00</div>
<div class="t" style="left:384px;top:755px;letter-spacing:-0.45px;word-spacing:0.2px;">24 Dec 04:00</div>
<div class="t" style="left:448px;top:755px;letter-spacing:-0.45px;word-spacing:0.2px;">24 Dec 20:00</div>
<div class="t" style="left:512px;top:755px;letter-spacing:-0.45px;word-spacing:0.2px;">26 Dec 08:00</div>
<div class="t" style="left:576px;top:755px;letter-spacing:-0.45px;word-spacing:0.2px;">27 Dec 00:00</div>
<div class="t" style="left:640px;top:755px;letter-spacing:-0.45px;word-spacing:0.2px;">27 Dec 16:00</div>
<div class="t" style="left:704px;top:755px;letter-spacing:-0.45px;word-spacing:0.2px;">28 Dec 08:00</div>
<div class="t" style="left:768px;top:755px;letter-spacing:-0.45px;word-spacing:0.2px;">31 Dec 00:00</div>
<div class="t" style="left:832px;top:755px;letter-spacing:-0.45px;word-spacing:0.2px;">31 Dec 16:00</div>
<div class="t" style="left:896px;top:755px;letter-spacing:-0.45px;word-spacing:0.2px;">2 Jan 04:00</div>
<div class="t" style="left:960px;top:755px;letter-spacing:-0.45px;word-spacing:0.2px;">2 Jan 20:00</div>
<div class="t" style="left:1024px;top:755px;letter-spacing:-0.45px;word-spacing:0.2px;">3 Jan 12:00</div>
<div class="t" style="left:1088px;top:755px;letter-spacing:-0.45px;word-spacing:0.2px;">4 Jan 04:00</div>
<div class="t" style="left:1152px;top:755px;letter-spacing:-0.45px;word-spacing:0.2px;">6 Jan 23:00</div>
<div class="t" style="left:1216px;top:755px;letter-spacing:-0.45px;word-spacing:0.2px;">7 Jan 12:00</div>
<div class="t" style="left:1280px;top:755px;letter-spacing:-0.45px;word-spacing:0.2px;">8 Jan 04:00</div>
<div class="t" style="left:1344px;top:755px;letter-spacing:-0.45px;word-spacing:0.2px;">8 Jan 20:00</div>
<div class="t" style="left:15px;top:30px;">GBPJPY-,H4&nbsp; 138.162 138.376 138.110 138.222</div>
<div class="t" style="left:3px;top:452px;letter-spacing:-0.3px;word-spacing:-0.5px;"><span style="letter-spacing:-0.1px">MACD(12,26,9)</span> 0.1353 0.0825</div>
<div class="t" style="left:3px;top:605px;letter-spacing:-0.4px;word-spacing:-0.5px;"><span style="letter-spacing:0">RSI(14)</span> 50.6316</div>
</div>
<svg style="position:absolute;left:0;top:0" width="20" height="45"><polygon points="3,37.5 10,37.5 6.5,33.5" fill="#000"/></svg>
<div id="gcj">多空转折点</div><div id="gnm">138.519</div>
<div id="oc">
<div class="sell"></div><div class="buy"></div><div class="pl"></div><div class="pr"></div>
<div class="tb" style="left:54px;width:58px"></div><div class="tb" style="left:114px;width:57px"></div><div class="hd" style="left:7px;width:44px"></div><div class="hd" style="left:174px;width:44px"></div><div class="hl" style="left:7px;width:44px"></div><div class="hl" style="left:174px;width:44px"></div>
<div class="lb" style="left:15px;top:51px">SELL</div>
<div class="lb" style="left:183px;top:51px;letter-spacing:-0.7px">BUY</div>
<div class="vol"></div>
<div class="vb" style="left:58px"></div><div class="vb" style="left:147px"></div><div class="vs" style="left:78px"></div><div class="vs" style="left:146px"></div>
<svg style="position:absolute;left:0;top:0" width="230" height="115"><polygon points="64.5,55 70.5,55 67.5,58.2" fill="#000"/><polygon points="153.5,58.2 159.5,58.2 156.5,55" fill="#000"/></svg>
<div class="vt" style="left:119px;top:50px">0.10</div>
<div class="sm" style="left:27px;top:90px">138</div>
<div class="big" style="left:50px;top:72px;letter-spacing:-0.6px">22</div>
<div class="sm" style="left:90px;top:74px;font-size:13.5px">2</div>
<div class="sm" style="left:137px;top:90px">138</div>
<div class="big" style="left:162px;top:72px">36</div>
<div class="sm" style="left:201px;top:74px;font-size:13.5px">5</div>
</div>
</body></html>
